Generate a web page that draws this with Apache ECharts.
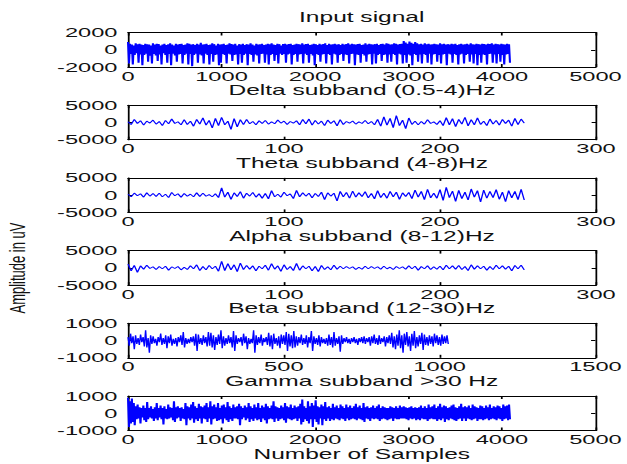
<!DOCTYPE html>
<html>
<head>
<meta charset="utf-8">
<script src="https://cdn.jsdelivr.net/npm/echarts@6/dist/echarts.min.js"></script>
<style>
  html, body { margin: 0; padding: 0; background: #ffffff; overflow: hidden; }
  /* the source figure is stretched sideways, so the chart is drawn narrow and widened */
  #chart { width: 358px; height: 464px; transform: scaleX(1.7514); transform-origin: 0 0; }
</style>
</head>
<body>
<div id="chart"></div>
<script>
// sample values (uV)
const inputSignal = [
  900,-1600,700,-500,600,-1700,500,-600,750,-400,650,-1500,700,-550,600,-1800,
  550,-600,700,-450,650,-1400,600,-700,500,-1600,750,-500,600,-650,700,-1300,
  650,-550,500,-1700,600,-400,700,-600,550,-1500,650,-500,750,-1800,600,-450,
  500,-650,700,-1400,600,-550,650,-500,700,-1600,550,-600,600,-450,750,-1700,
  700,-500,600,-1900,650,-600,550,-450,700,-1500,600,-550,800,-650,600,-1600,
  650,-450,700,-600,550,-1700,600,-500,750,-1400,650,-600,500,-550,700,-1800,
  600,-1500,650,-500,700,-600,550,-1600,600,-450,750,-550,650,-1300,600,-600,
  700,-550,500,-1700,650,-500,600,-1500,700,-600,550,-450,650,-1800,600,-500,
  750,-600,600,-1400,500,-550,700,-650,600,-1600,650,-500,700,-450,550,-1500,
  600,-550,700,-1700,650,-600,750,-500,600,-1300,550,-600,700,-1600,650,-450,
  500,-600,650,-500,700,-1500,600,-550,650,-450,700,-1700,550,-600,600,-500,
  700,-1400,650,-550,600,-500,750,-1600,600,-450,650,-600,700,-1500,550,-500,
  600,-650,700,-1800,650,-500,550,-600,700,-1400,600,-550,650,-500,750,-1600,
  550,-500,700,-600,600,-1700,650,-450,700,-550,600,-1500,650,-600,550,-500,
  700,-1300,600,-550,650,-600,750,-1600,600,-500,700,-450,650,-1800,600,-550,
  650,-600,700,-1500,550,-500,600,-650,750,-1400,600,-550,700,-500,650,-1700,
  600,-450,650,-1600,700,-600,550,-500,650,-1300,700,-600,600,-550,750,-1500,
  700,-550,600,-1400,650,-500,750,-600,700,-1700,600,-450,650,-550,700,-1600,
  1000,-600,850,-1500,700,-550,950,-650,800,-1800,700,-500,900,-600,750,-1400,
  650,-550,700,-1600,600,-500,750,-600,650,-1500,700,-450,600,-1700,650,-550,
  700,-500,650,-1400,600,-600,750,-1600,650,-550,700,-500,600,-1800,650,-450,
  600,-550,700,-1500,650,-500,700,-600,550,-1700,650,-550,700,-450,600,-1600,
  650,-600,700,-500,600,-1400,750,-550,650,-1600,600,-500,700,-1800,650,-600,
  600,-1500,700,-550,650,-600,600,-1700,700,-500,650,-450,750,-1500,600,-550,
  700,-1600,650,-500,600,-1400,700,-600,650,-1700,600,-550,700,-500,650,-1500
];

const deltaBand = [
  200,-600,900,-300,500,-800,400,-200,700,-500,
  300,-900,600,-400,1000,-300,200,-700,800,-600,
  400,-1100,900,-500,1300,-800,600,-1600,1200,-900,
  1500,-700,400,-2000,1100,-1300,800,-600,900,-400,
  300,-700,500,-300,600,-500,200,-400,700,-200,
  400,-600,300,-200,500,-700,900,-400,1000,-800,
  600,-500,400,-900,700,-300,500,-1000,800,-600,
  300,-200,400,-500,200,-300,600,-400,300,-700,
  900,-1100,1600,-800,1200,-1500,2000,-900,700,-1800,
  1300,-600,400,-700,300,-500,800,-300,200,-600,
  500,-900,1400,-700,1100,-1200,900,-500,1500,-1000,
  800,-700,1300,-600,400,-900,1000,-500,600,-800,
  900,-300,700,-1100,1200,-600,1000,-200
];

const thetaBand = [
  300,-500,600,-200,400,-600,700,-300,500,-400,
  600,-500,300,-700,800,-200,400,-600,500,-300,
  300,-500,700,-400,600,-300,200,-500,400,-700,
  2100,-600,900,-1200,700,-400,1000,-900,600,-300,
  800,-600,400,-900,500,-1100,1300,-500,300,-600,
  900,-200,400,-1000,1400,-500,700,-300,600,-800,
  500,-400,900,-1300,700,-300,600,-1700,1100,-500,
  800,-900,1200,-600,700,-400,1000,-800,500,-1100,
  1300,-700,600,-900,1100,-500,900,-1200,700,-400,
  800,-1000,1500,-600,1100,-1300,1700,-800,600,-900,
  1600,-1500,2300,-700,1200,-1800,1400,-1000,900,-1400,
  1800,-600,1300,-2000,1500,-900,1100,-700,1600,-1200,
  900,-1900,1300,-800,1100,-1300,1700,-1400
];

const alphaBand = [
  1100,-900,700,-1300,600,-400,800,-200,300,-500,
  400,-300,500,-700,300,-200,400,-600,200,-500,
  600,-300,900,-800,400,-600,700,-300,500,-1000,
  1900,-800,1200,-600,900,-1100,1400,-500,700,-400,
  600,-900,500,-300,800,-700,1200,-400,600,-1000,
  900,-500,400,-800,1300,-700,600,-300,500,-900,
  400,-1100,700,-500,300,-600,800,-400,500,-300,
  400,-200,300,-500,200,-400,500,-300,400,-200,
  300,-400,500,-300,200,-500,400,-200,300,-400,
  600,-300,500,-700,400,-300,600,-500,300,-400,
  500,-600,800,-300,600,-400,700,-500,400,-800,
  900,-400,600,-300,500,-700,400,-500,800,-300,
  600,-400,500,-900,700,-300,800,-600
];

const betaBand = [
  200,-300,400,-150,250,-500,300,-200,150,-250,350,-100,200,-350,600,-400,
  150,-700,300,-200,250,-150,100,-300,200,-100,400,-250,150,-200,300,-450,
  250,-150,350,-300,100,-200,150,-350,200,-100,300,-250,500,-400,150,-200,
  100,-150,200,-100,250,-300,400,-600,350,-200,150,-250,300,-150,200,-350,
  500,-300,450,-400,300,-550,200,-250,350,-200,600,-450,250,-300,150,-200,
  300,-150,200,-400,550,-600,300,-200,150,-100,200,-300,400,-150,250,-500,
  150,-200,100,-150,600,-700,300,-250,200,-150,350,-300,150,-100,200,-250,
  450,-350,300,-500,400,-200,150,-300,250,-450,350,-200,300,-250,500,-600,
  400,-350,300,-450,550,-400,250,-300,200,-150,350,-250,150,-200,300,-400,
  200,-150,550,-600,250,-200,150,-250,300,-350,200,-150,100,-200,150,-300,
  350,-250,200,-400,500,-300,150,-200,250,-650,300,-200,150,-100,200,-150,
  100,-200,150,-100,200,-150,100,-250,150,-100,200,-150,250,-200,150,-100,
  200,-300,250,-150,350,-200,150,-250,300,-200,150,-100,250,-350,200,-150,
  300,-200,450,-400,250,-500,350,-300,600,-450,300,-700,400,-250,500,-350,
  250,-600,400,-300,550,-450,200,-350,300,-200,450,-550,350,-250,200,-300,
  300,-200,250,-350,400,-150,300,-250,200,-300,350,-200,250,-150,300,-200
];

const gammaBand = [
  900,-800,700,-600,850,-500,600,-700,400,-350,500,-300,350,-600,300,-250,
  450,-400,300,-500,650,-350,300,-250,400,-300,250,-450,350,-300,600,-400,
  300,-250,450,-350,300,-650,400,-300,250,-350,500,-300,350,-250,300,-400,
  700,-500,350,-300,400,-250,300,-450,350,-300,250,-350,600,-700,400,-300,
  350,-400,500,-300,650,-550,400,-350,300,-450,550,-300,400,-600,350,-300,
  450,-350,600,-500,350,-300,700,-650,400,-350,500,-300,350,-450,600,-400,
  300,-350,450,-600,500,-300,350,-400,650,-500,400,-350,300,-450,500,-300,
  350,-300,400,-350,550,-700,400,-350,300,-250,450,-400,350,-300,600,-500,
  400,-350,300,-450,500,-300,350,-400,600,-350,300,-500,450,-300,350,-400,
  550,-600,400,-350,300,-300,450,-350,700,-500,400,-300,350,-450,300,-350,
  450,-300,350,-400,600,-550,400,-300,350,-350,500,-400,300,-350,450,-300,
  350,-450,400,-300,550,-650,800,-500,400,-350,300,-450,700,-600,400,-350,
  600,-800,450,-350,750,-500,400,-650,350,-300,500,-700,400,-350,650,-450,
  350,-300,400,-450,300,-350,550,-400,350,-300,450,-350,300,-400,500,-300,
  400,-350,300,-450,500,-300,350,-400,450,-350,300,-300,400,-350,550,-400,
  350,-300,450,-350,300,-400,600,-500,350,-300,400,-350,300,-450,350,-300,
  450,-350,300,-300,400,-350,500,-450,300,-350,400,-300,350,-350,300,-400,
  300,-350,400,-300,350,-450,300,-300,400,-350,300,-350,450,-300,350,-300,
  400,-300,350,-350,300,-400,350,-300,400,-350,300,-300,350,-400,300,-350,
  350,-400,450,-300,300,-350,400,-350,300,-450,500,-350,350,-300,400,-350,
  500,-350,300,-450,400,-350,550,-400,350,-300,450,-500,400,-350,300,-400,
  350,-300,450,-350,500,-400,350,-450,300,-350,400,-300,550,-450,350,-300,
  400,-450,350,-300,450,-350,300,-400,500,-350,400,-300,350,-450,300,-350,
  450,-350,400,-400,300,-350,450,-300,350,-400,500,-350,300,-300,400,-350,
  350,-400,450,-300,400,-350,300,-450,500,-350,400,-300,450,-400,500,-350
];

// panel titles and axis ranges
const panelTitles = [
  "Input signal",
  "Delta subband (0.5-4)Hz",
  "Theta subband (4-8)Hz",
  "Alpha subband (8-12)Hz",
  "Beta subband (12-30)Hz",
  "Gamma subband >30 Hz"
];
const panelValues = [inputSignal, deltaBand, thetaBand, alphaBand, betaBand, gammaBand];
const sampleStep = [10.24, 2, 2, 2, 4.03, 10.24];
const xMax = [5000, 300, 300, 300, 1500, 5000];
const xStep = [1000, 100, 100, 100, 500, 1000];
const yMax = [2000, 5000, 5000, 5000, 1000, 1000];

const FONT = "'Liberation Sans', Arial, sans-serif";
const TEXT = "#111111";
const panelTop = [32.5, 105.2, 177.9, 250.6, 323.3, 396];
const panelHeight = 34.5;

const chart = echarts.init(document.getElementById("chart"), null, {renderer: "svg"});

const grids = [], xAxes = [], yAxes = [], series = [];
const plain = v => String(v); // no thousands separators, like the source

panelTitles.forEach((title, i) => {
  grids.push({left: 73.1, width: 267.2, top: panelTop[i], height: panelHeight});

  const lineStyle = {color: "#000000", width: 1};
  const last = i === panelTitles.length - 1;
  const dense = sampleStep[i] > 10;

  // bottom axis with labels
  xAxes.push({
    type: "value", gridIndex: i, position: "bottom",
    min: 0, max: xMax[i], interval: xStep[i],
    axisLine: {show: true, onZero: false, lineStyle},
    axisTick: {show: true, inside: true, length: 3, lineStyle},
    splitLine: {show: false},
    axisLabel: {color: TEXT, fontFamily: FONT, fontSize: 13.5, margin: 2, hideOverlap: false, formatter: plain},
    name: last ? "Number of Samples" : "",
    nameLocation: "middle", nameGap: 17,
    nameTextStyle: {color: TEXT, fontFamily: FONT, fontSize: 14}
  });
  // top axis mirrors ticks, carries the title
  xAxes.push({
    type: "value", gridIndex: i, position: "top",
    min: 0, max: xMax[i], interval: xStep[i],
    axisLine: {show: true, onZero: false, lineStyle},
    axisTick: {show: true, inside: true, length: 3, lineStyle},
    splitLine: {show: false},
    axisLabel: {show: false},
    name: title, nameLocation: "middle", nameGap: 8,
    nameTextStyle: {color: TEXT, fontFamily: FONT, fontSize: 14}
  });

  yAxes.push({
    type: "value", gridIndex: i, position: "left",
    min: -yMax[i], max: yMax[i], interval: yMax[i],
    axisLine: {show: true, onZero: false, lineStyle},
    axisTick: {show: true, inside: true, length: 2.5, lineStyle},
    splitLine: {show: false},
    axisLabel: {color: TEXT, fontFamily: FONT, fontSize: 13.5, margin: 6, formatter: plain}
  });
  yAxes.push({
    type: "value", gridIndex: i, position: "right",
    min: -yMax[i], max: yMax[i], interval: yMax[i],
    axisLine: {show: true, onZero: false, lineStyle},
    axisTick: {show: true, inside: true, length: 2.5, lineStyle},
    splitLine: {show: false},
    axisLabel: {show: false}
  });

  series.push({
    type: "line",
    xAxisIndex: 2 * i, yAxisIndex: 2 * i,
    data: panelValues[i].map((v, k) => [k * sampleStep[i], v]),
    showSymbol: false,
    lineStyle: {color: "#0000ff", width: dense ? 1.2 : 0.8},
    silent: true
  });
});

chart.setOption({
  animation: false,
  backgroundColor: "#ffffff",
  grid: grids,
  xAxis: xAxes,
  yAxis: yAxes,
  series,
  graphic: [{
    type: "text",
    x: 10, y: 268,
    rotation: Math.PI / 2,
    style: {
      text: "Amplitude in uV",
      fill: TEXT,
      font: "13px " + FONT,
      align: "center",
      verticalAlign: "middle"
    }
  }]
});
</script>
</body>
</html>
